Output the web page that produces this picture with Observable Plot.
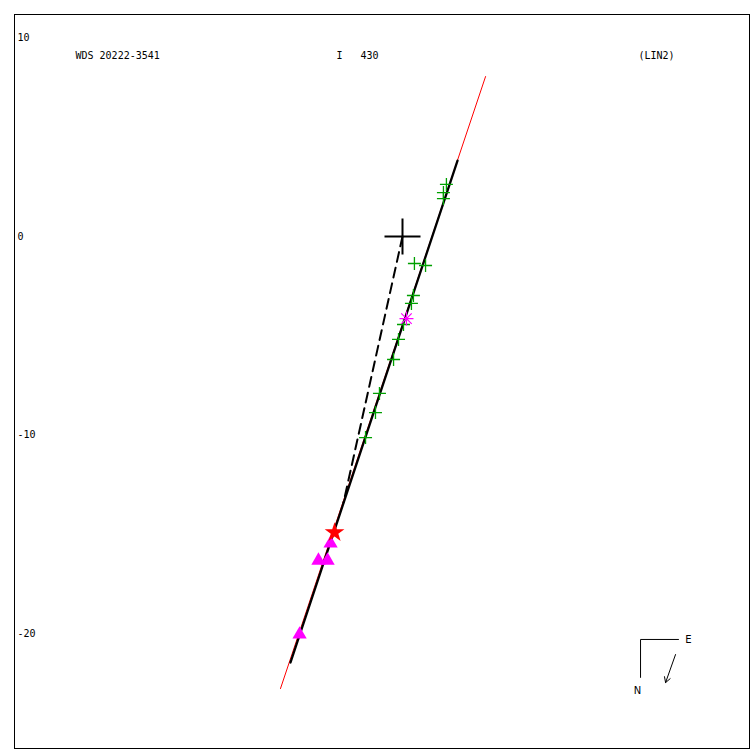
<!DOCTYPE html>
<html>
<head>
<meta charset="utf-8">
<script src="https://cdn.jsdelivr.net/npm/d3@7"></script>
<script src="https://cdn.jsdelivr.net/npm/@observablehq/plot@0.6"></script>
<style>
  body { margin: 0; background: #fff; }
  svg { display: block; }
</style>
</head>
<body>
<div id="chart"></div>
<script>
// ---- Data (arcsec, x to the right, y upwards; origin = primary) ----
const titleLeft = "WDS 20222-3541";
const titleMid = "I\u00a0\u00a0\u00a0430";
const titleRight = "(LIN2)";
const yTickValues = [10, 0, -10, -20];

// green "+" observations
const obsX = [2.21, 2.06, 2.06, 0.60, 1.16, 0.55, 0.45, 0.05, -0.20, -0.45, -1.16, -1.36, -1.86];
const obsY = [2.62, 2.21, 1.91, -1.36, -1.46, -2.97, -3.37, -4.43, -5.18, -6.19, -7.90, -8.86, -10.12];
// magenta asterisk
const astX = [0.20];
const astY = [-4.13];
// magenta triangles
const triX = [-3.62, -4.23, -3.77, -5.18];
const triY = [-15.45, -16.31, -16.31, -20.03];
// red star
const starX = [-3.42];
const starY = [-14.90];
// primary
const primX = [0];
const primY = [0];
// linear orbit (black) and red extension
const orbitX = [-5.64, 2.77];
const orbitY = [-21.44, 3.82];
const redX = [-6.14, 4.18];
const redY = [-22.75, 8.05];
// dashed line from primary to orbit
const dashX = [0, -2.97];
const dashY = [0, -13.39];
// compass
const compassX = [13.89, 11.98, 11.98];
const compassY = [-20.28, -20.28, -22.19];
const arrowX = [13.74, 13.24];
const arrowY = [-21.04, -22.45];
const compassLabels = ["E", "N"];
const compassLabelX = [14.39, 11.83];
const compassLabelY = [-20.28, -22.85];

// ---- helpers ----
const zip = (xs, ys) => xs.map((x, i) => ({x, y: ys[i]}));
const plusSym = {
  draw(ctx, size) {
    const r = Math.sqrt(size / Math.PI);
    ctx.moveTo(-r, 0); ctx.lineTo(r, 0);
    ctx.moveTo(0, -r); ctx.lineTo(0, r);
  }
};
const astSym = {
  draw(ctx, size) {
    const r = Math.sqrt(size / Math.PI);
    const d = r * 0.75;
    ctx.moveTo(-r, 0); ctx.lineTo(r, 0);
    ctx.moveTo(0, -r); ctx.lineTo(0, r);
    ctx.moveTo(-d, -d); ctx.lineTo(d, d);
    ctx.moveTo(-d, d); ctx.lineTo(d, -d);
  }
};

const K = 19.87; // px per arcsec
const font = "'DejaVu Sans Mono', monospace";

const chart = Plot.plot({
  width: 750,
  height: 750,
  marginLeft: 14,
  marginTop: 14,
  marginRight: 1,
  marginBottom: 2,
  style: {fontFamily: font, fontSize: "10px", background: "#fff"},
  x: {domain: [(14 - 402) / K, (749 - 402) / K], axis: null},
  y: {domain: [(236 - 748) / K, (236 - 14) / K], axis: null},
  marks: [
    Plot.frame({stroke: "black", strokeWidth: 1}),
    Plot.text(yTickValues, {y: d => d, text: d => String(d), frameAnchor: "left", dx: 3, textAnchor: "start", fill: "black"}),
    Plot.text([titleLeft], {text: d => d, frameAnchor: "top-left", dx: 61, dy: 41, textAnchor: "start", lineAnchor: "middle", fill: "black"}),
    Plot.text([titleMid], {text: d => d, frameAnchor: "top-left", dx: 322, dy: 41, textAnchor: "start", lineAnchor: "middle", fill: "black"}),
    Plot.text([titleRight], {text: d => d, frameAnchor: "top-left", dx: 624, dy: 41, textAnchor: "start", lineAnchor: "middle", fill: "black"}),
    Plot.line(zip(redX, redY), {x: "x", y: "y", stroke: "red", strokeWidth: 1}),
    Plot.line(zip(orbitX, orbitY), {x: "x", y: "y", stroke: "black", strokeWidth: 2.3}),
    Plot.line(zip(dashX, dashY), {x: "x", y: "y", stroke: "black", strokeWidth: 2, strokeDasharray: "10,6"}),
    Plot.dot(zip(obsX, obsY), {x: "x", y: "y", symbol: plusSym, r: 6.5, stroke: "#00a000", strokeWidth: 1.3, fill: "none"}),
    Plot.dot(zip(astX, astY), {x: "x", y: "y", symbol: astSym, r: 7, stroke: "#ff00ff", strokeWidth: 1.2, fill: "none"}),
    Plot.dot(zip(triX, triY), {x: "x", y: "y", symbol: "triangle", r: 5.3, fill: "#ff00ff", stroke: "none"}),
    Plot.dot(zip(starX, starY), {x: "x", y: "y", symbol: "star", r: 6.2, fill: "red", stroke: "none"}),
    Plot.dot(zip(primX, primY), {x: "x", y: "y", symbol: plusSym, r: 18, stroke: "black", strokeWidth: 2, fill: "none"}),
    Plot.line(zip(compassX, compassY), {x: "x", y: "y", stroke: "black", strokeWidth: 1}),
    Plot.arrow([{x1: arrowX[0], y1: arrowY[0], x2: arrowX[1], y2: arrowY[1]}], {x1: "x1", y1: "y1", x2: "x2", y2: "y2", stroke: "black", strokeWidth: 1, headLength: 9}),
    Plot.text(compassLabels, {x: (d, i) => compassLabelX[i], y: (d, i) => compassLabelY[i], text: d => d, fill: "black", fontSize: 10, fontFamily: "'DejaVu Sans', sans-serif"})
  ]
});
document.getElementById("chart").appendChild(chart);
</script>
</body>
</html>
